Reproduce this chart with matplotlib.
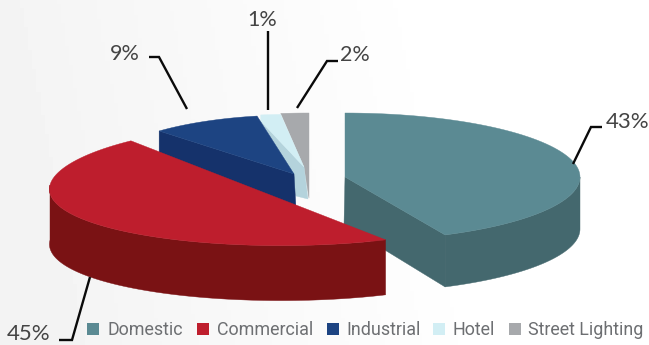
import numpy as np
import matplotlib
matplotlib.use("Agg")
import matplotlib.pyplot as plt
from matplotlib.patches import Polygon, Rectangle

# Sector data
categories = ["Domestic", "Commercial", "Industrial", "Hotel", "Street Lighting"]
shares = [43, 45, 9, 1, 2]
share_labels = ["43%", "45%", "9%", "1%", "2%"]

top_colors = ["#5b8a93", "#be1e2d", "#1d4482", "#d2eef4", "#a7a9ac"]
side_colors = ["#44686e", "#7a1214", "#15326b", "#b4d3dc", "#a7a9ac"]

# Exploded layout of each slice: ellipse centre, radii, wall height, perspective
layout = {
    "Domestic": dict(c=(345, 177), a=235, b=64, h=52, k=0.0),
    "Commercial": dict(c=(281, 185), a=231, b=60.6, h=55, k=0.07),
    "Industrial": dict(c=(294, 174), a=197, b=59, h=34, k=0.0),
    "Hotel": dict(c=(321, 167), apex=(304, 167), a=322, b=53, h=31, k=0.0),
    "Street Lighting": dict(c=(309, 167), apex=(304, 167), a=225, b=54, h=31, k=0.0),
}

fig = plt.figure(figsize=(6.49, 3.45), dpi=100)
ax = fig.add_axes([0, 0, 1, 1])
ax.set_xlim(0, 649)
ax.set_ylim(345, 0)
ax.axis("off")

# Faint off-white wash fading to white on the right
xx, yy = np.meshgrid(np.linspace(0, 1, 160), np.linspace(0, 1, 90))
wash = 0.955 + 0.045 * np.clip((xx - 0.1 * yy) * 1.5, 0, 1)
ax.imshow(wash, extent=(0, 649, 345, 0), cmap="gray", vmin=0, vmax=1,
          aspect="auto", zorder=0)

# Slice boundaries, clockwise from 12 o'clock
edges = np.concatenate([[0], np.cumsum(shares)]) / sum(shares) * 360.0
spans = {name: (90 - edges[i], 90 - edges[i + 1]) for i, name in enumerate(categories)}


def rim(name, t0, t1, n=80):
    """Outer rim of a slice's top face between two ellipse angles, in pixels."""
    g = layout[name]
    t = np.radians(np.linspace(t0, t1, n))
    x = g["c"][0] + g["a"] * np.cos(t) * (1 - g["k"] * np.sin(t))
    y = g["c"][1] - g["b"] * np.sin(t)
    return np.column_stack([x, y])


def apex_of(name):
    g = layout[name]
    return np.array(g.get("apex", g["c"]), float)


def fill(points, color, z):
    ax.add_patch(Polygon(points, closed=True, fc=color, ec=color, lw=0.3, zorder=z))


# Domestic: wall, cut face, top
name = "Domestic"
g = layout[name]
t0, t1 = spans[name]
arc = rim(name, 0, t1)
fill(np.vstack([arc, (arc + [0, g["h"]])[::-1]]), side_colors[0], 2)
full = rim(name, t0, t1)
apex = apex_of(name)
fill([apex, full[-1], full[-1] + [0, g["h"]], apex + [-1, g["h"] - 4]], side_colors[0], 2)
fill(np.vstack([apex, full]), top_colors[0], 3)

# Street Lighting: top and the sliver of wall below it
name = "Street Lighting"
g = layout[name]
t0, t1 = spans[name]
full = rim(name, t0, t1)
apex = apex_of(name)
fill(np.vstack([apex, full, [g["c"][0], g["c"][1] + g["h"]]]), top_colors[4], 4)

# Hotel: cut face then top
name = "Hotel"
g = layout[name]
t0, t1 = spans[name]
full = rim(name, t0, t1)
apex = apex_of(name)
notch = full[0] + [0, 6]
fill([notch, apex, apex + [4, g["h"] + 1], apex + [-8, g["h"] - 2], apex + [-12, 5]],
     side_colors[3], 5)
fill(np.vstack([apex, full[::-1], notch]), top_colors[3], 6)

# Industrial: cut face then top
name = "Industrial"
g = layout[name]
t0, t1 = spans[name]
full = rim(name, t0, t1)
apex = apex_of(name)
fill([full[0], apex, apex + [2, g["h"]], full[0] + [0, g["h"]]], side_colors[2], 7)
fill(np.vstack([apex, full]), top_colors[2], 8)

# Commercial: wall then top, closed straight across its long edge
name = "Commercial"
g = layout[name]
t0, t1 = spans[name]
arc = rim(name, t0, -180)
fill(np.vstack([arc, (arc + [0, g["h"]])[::-1]]), side_colors[1], 9)
full = rim(name, t0, t1)
fill(full, top_colors[1], 10)

# Leader lines and share labels
leaders = [
    [(573, 164), (591, 127), (602, 127)],
    [(90, 277), (72, 340), (59, 340)],
    [(187, 109), (159, 57), (149, 57)],
    [(268, 110), (268, 31)],
    [(297, 108), (327, 61), (338, 61)],
]
label_pos = [(606, 122), (29, 334), (125, 54), (262, 20), (355, 55)]
label_size = [16, 16, 15.5, 15.5, 15.5]
label_ha = ["left", "center", "center", "center", "center"]
for path, text, pos, size, ha in zip(leaders, share_labels, label_pos, label_size, label_ha):
    xs, ys = zip(*path)
    ax.plot(xs, ys, color="#0a0a0a", lw=1.7, solid_capstyle="butt",
            solid_joinstyle="miter", zorder=12)
    ax.text(pos[0], pos[1], text, fontsize=size, color="#444444", ha=ha, va="center",
            family="Lato", zorder=12)

# Legend row
swatch_x = [87, 197, 327, 433, 509]
text_x = [107.5, 216.5, 346.5, 452.5, 528.5]
for name, color, sx, tx in zip(categories, top_colors, swatch_x, text_x):
    ax.add_patch(Rectangle((sx, 323), 12, 12, fc=color, ec="none", zorder=12))
    ax.text(tx, 330, name, fontsize=12.9, color="#6d6f72", ha="left", va="center",
            family="Roboto", zorder=12)

fig.savefig("out.png", dpi=100)
